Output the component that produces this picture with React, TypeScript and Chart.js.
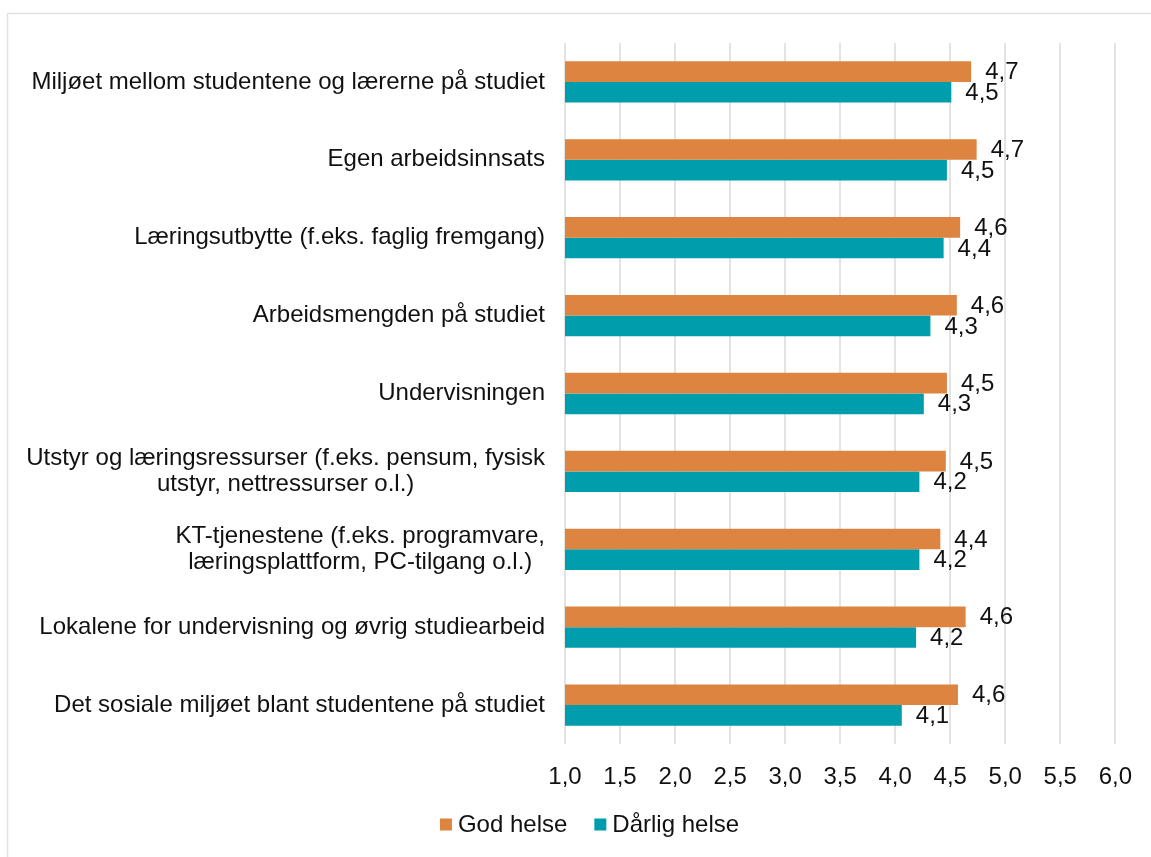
import React, { useEffect, useRef } from "react";
import { Chart, registerables } from "chart.js";

Chart.register(...registerables);

const categories: string[][] = [
  ["Miljøet mellom studentene og lærerne på studiet"],
  ["Egen arbeidsinnsats"],
  ["Læringsutbytte (f.eks. faglig fremgang)"],
  ["Arbeidsmengden på studiet"],
  ["Undervisningen"],
  ["Utstyr og læringsressurser (f.eks. pensum, fysisk", "utstyr, nettressurser o.l.)"],
  ["KT-tjenestene (f.eks. programvare,", "læringsplattform, PC-tilgang o.l.)"],
  ["Lokalene for undervisning og øvrig studiearbeid"],
  ["Det sosiale miljøet blant studentene på studiet"],
];

const seriesNames = ["God helse", "Dårlig helse"];
const godHelse = [4.69, 4.74, 4.59, 4.56, 4.47, 4.46, 4.41, 4.64, 4.57];
const darligHelse = [4.51, 4.47, 4.44, 4.32, 4.26, 4.22, 4.22, 4.19, 4.06];

const xMin = 1.0;
const xMax = 6.0;
const xStep = 0.5;

const ORANGE = "#DC8440";
const TEAL = "#009DAC";
const FONT = "'Liberation Sans', Arial, sans-serif";
const FS = 24;

const fmt = (v: number) => v.toFixed(1).replace(".", ",");

export default function App() {
  const ref = useRef<HTMLCanvasElement | null>(null);

  useEffect(() => {
    if (!ref.current) return;

    const borderPlugin = {
      id: "frameBorder",
      beforeDraw(chart: any) {
        const ctx = chart.ctx;
        ctx.save();
        ctx.strokeStyle = "#e2e2e2";
        ctx.lineWidth = 1.5;
        ctx.strokeRect(7.5, 13.5, 1300, 1000);
        ctx.restore();
      },
    };

    const yLabelPlugin = {
      id: "yLabels",
      afterDraw(chart: any) {
        const ctx = chart.ctx;
        const yScale = chart.scales.y;
        const right = chart.chartArea.left - 20;
        const lh = 26;
        ctx.save();
        ctx.font = `${FS}px ${FONT}`;
        ctx.fillStyle = "#111";
        ctx.textBaseline = "middle";
        ctx.textAlign = "center";
        categories.forEach((lines, i) => {
          const yc = yScale.getPixelForValue(i);
          const w = Math.max(...lines.map((l) => ctx.measureText(l).width));
          const cx = right - w / 2;
          const y0 = yc - ((lines.length - 1) * lh) / 2;
          lines.forEach((l, j) => ctx.fillText(l, cx, y0 + j * lh));
        });
        ctx.restore();
      },
    };

    const valueLabelPlugin = {
      id: "valueLabels",
      afterDatasetsDraw(chart: any) {
        const ctx = chart.ctx;
        ctx.save();
        ctx.font = `${FS}px ${FONT}`;
        ctx.fillStyle = "#111";
        ctx.textAlign = "left";
        ctx.textBaseline = "middle";
        chart.data.datasets.forEach((ds: any, di: number) => {
          const meta = chart.getDatasetMeta(di);
          meta.data.forEach((el: any, i: number) => {
            ctx.fillText(fmt(ds.data[i]), el.x + 14, el.y + 1);
          });
        });
        ctx.restore();
      },
    };

    const legendPlugin = {
      id: "customLegend",
      afterDraw(chart: any) {
        const ctx = chart.ctx;
        const box = 12;
        const gap = 6;
        const itemGap = 27;
        const centerX = 589.5;
        const centerY = 824.5;
        ctx.save();
        ctx.font = `${FS}px ${FONT}`;
        const items = chart.data.datasets.map((ds: any) => ({
          text: ds.label,
          color: ds.backgroundColor,
          w: ctx.measureText(ds.label).width,
        }));
        const total =
          items.reduce((s: number, it: any) => s + box + gap + it.w, 0) + itemGap * (items.length - 1);
        let x = centerX - total / 2;
        ctx.textBaseline = "middle";
        ctx.textAlign = "left";
        items.forEach((it: any) => {
          ctx.fillStyle = it.color;
          ctx.fillRect(x, centerY - box / 2, box, box);
          x += box + gap;
          ctx.fillStyle = "#111";
          ctx.fillText(it.text, x, centerY + 1);
          x += it.w + itemGap;
        });
        ctx.restore();
      },
    };

    const chart = new Chart(ref.current, {
      type: "bar",
      data: {
        labels: categories.map((c) => c.join(" ")),
        datasets: [
          {
            label: seriesNames[0],
            data: godHelse,
            backgroundColor: ORANGE,
            borderWidth: 0,
            categoryPercentage: 0.53,
            barPercentage: 1.0,
          },
          {
            label: seriesNames[1],
            data: darligHelse,
            backgroundColor: TEAL,
            borderWidth: 0,
            categoryPercentage: 0.53,
            barPercentage: 1.0,
          },
        ],
      },
      options: {
        indexAxis: "y",
        animation: false,
        responsive: false,
        maintainAspectRatio: false,
        layout: { padding: { top: 43, right: 34, left: 0, bottom: 0 } },
        scales: {
          x: {
            min: xMin,
            max: xMax,
            grid: { color: "#e3e3e3", lineWidth: 2, drawTicks: false },
            border: { display: false },
            ticks: {
              stepSize: xStep,
              padding: 19,
              color: "#111",
              font: { family: FONT, size: FS },
              callback: (v: any) => fmt(Number(v)),
            },
            afterFit: (scale: any) => {
              scale.height = 113;
            },
          },
          y: {
            grid: { display: false, drawTicks: false },
            border: { display: false },
            ticks: { color: "transparent", font: { family: FONT, size: FS } },
            afterFit: (scale: any) => {
              scale.width = 565;
            },
          },
        },
        plugins: {
          legend: { display: false },
          tooltip: { enabled: false },
        },
      },
      plugins: [borderPlugin, yLabelPlugin, valueLabelPlugin, legendPlugin],
    });

    return () => chart.destroy();
  }, []);

  return (
    <div style={{ position: "absolute", left: 0, top: 0, width: 1151, height: 857, background: "#fff" }}>
      <canvas ref={ref} width={1151} height={857} style={{ width: 1151, height: 857, display: "block" }} />
    </div>
  );
}
